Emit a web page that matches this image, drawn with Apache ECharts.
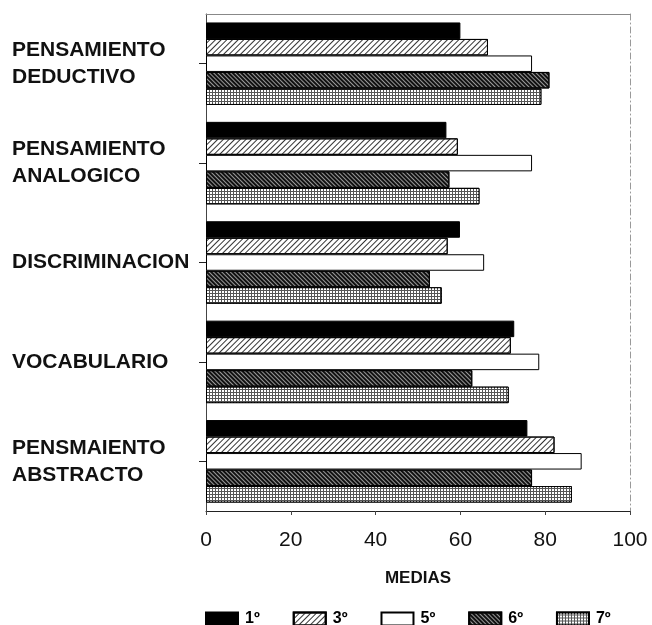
<!DOCTYPE html>
<html>
<head>
<meta charset="utf-8">
<script src="https://cdn.jsdelivr.net/npm/echarts@6/dist/echarts.min.js"></script>
<style>
html,body{margin:0;padding:0;background:#fff;}
#chart{width:652px;height:625px;}
</style>
</head>
<body>
<div id="chart"></div>
<script>
const categories = ['PENSAMIENTO\nDEDUCTIVO', 'PENSAMIENTO\nANALOGICO', 'DISCRIMINACION', 'VOCABULARIO', 'PENSMAIENTO\nABSTRACTO'];
const seriesNames = ['1º', '3º', '5º', '6º', '7º'];
const s1 = [60.0, 56.7, 59.9, 72.7, 75.8];
const s3 = [66.5, 59.4, 57.0, 71.9, 82.2];
const s5 = [76.9, 76.9, 65.6, 78.6, 88.6];
const s6 = [81.0, 57.4, 52.8, 62.8, 76.9];
const s7 = [79.1, 64.5, 55.6, 71.4, 86.3];
const xTicks = [0, 20, 40, 60, 80, 100];

const values = [s1, s3, s5, s6, s7];
const styles = [
  { color: '#000' },
  { color: '#fff', decal: { symbol: 'rect', color: '#333', dashArrayX: [1, 0], dashArrayY: [1, 3], rotation: -Math.PI / 4 } },
  { color: '#fff' },
  { color: '#999', decal: { symbol: 'rect', color: '#111', dashArrayX: [1, 0], dashArrayY: [1.6, 1], rotation: Math.PI / 4 } },
  { color: '#555', decal: { symbol: 'rect', color: '#fff', dashArrayX: [2, 1], dashArrayY: [2, 1], symbolSize: 1 } }
];

const chart = echarts.init(document.getElementById('chart'), null, { renderer: 'canvas' });
const font = 'Liberation Sans, Arial, Helvetica, sans-serif';

chart.setOption({
  animation: false,
  backgroundColor: '#fff',
  grid: { left: 206, right: 22, top: 14, bottom: 114, containLabel: false },
  legend: {
    left: 205, top: 611, padding: 0, icon: 'rect',
    itemWidth: 32, itemHeight: 13, itemGap: 33,
    textStyle: { fontFamily: font, fontWeight: 'bold', fontSize: 16, color: '#000', padding: [0, 0, 0, 2] },
    data: seriesNames
  },
  xAxis: [{
    type: 'value', min: xTicks[0], max: xTicks[xTicks.length - 1], interval: 20,
    name: 'MEDIAS', nameLocation: 'middle', nameGap: 59,
    nameTextStyle: { fontFamily: font, fontWeight: 'bold', fontSize: 17, color: '#111' },
    axisLine: { show: true, lineStyle: { color: '#222', width: 1 } },
    axisTick: { show: true, length: 4, lineStyle: { color: '#444' } },
    axisLabel: { margin: 19, fontFamily: font, fontSize: 21, color: '#111' },
    splitLine: { show: false }
  }, {
    type: 'value', min: 0, max: 100, position: 'top',
    axisLine: { show: true, onZero: false, lineStyle: { color: '#888', width: 1 } },
    axisTick: { show: false }, axisLabel: { show: false }, splitLine: { show: false }
  }],
  yAxis: [{
    type: 'category', data: categories, inverse: true,
    axisLine: { show: true, lineStyle: { color: '#444', width: 1 } },
    axisTick: { show: true, alignWithLabel: true, length: 7, lineStyle: { color: '#222' } },
    axisLabel: { align: 'left', margin: 194, fontFamily: font, fontWeight: 'bold', fontSize: 21, lineHeight: 27, color: '#111' }
  }, {
    type: 'category', data: categories, inverse: true, position: 'right',
    axisLine: { show: true, onZero: false, lineStyle: { color: '#999', width: 1, type: [6, 3, 1, 3] } },
    axisTick: { show: false }, axisLabel: { show: false }
  }],
  series: seriesNames.map((n, i) => ({
    name: n, type: 'bar', xAxisIndex: 0, yAxisIndex: 0,
    data: values[i],
    barGap: '0%', barCategoryGap: '17%',
    itemStyle: Object.assign({ borderColor: '#000', borderWidth: 1 }, styles[i])
  }))
});
</script>
</body>
</html>
